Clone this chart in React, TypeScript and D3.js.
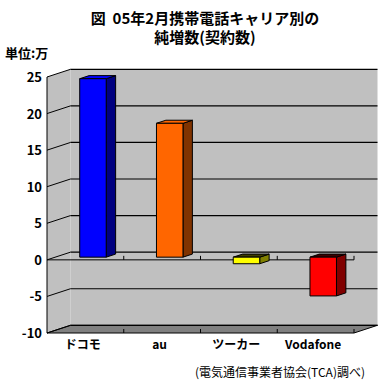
import React from "react";
import * as d3 from "d3";

const categories = ["ドコモ", "au", "ツーカー", "Vodafone"];
const values = [24.4, 18.3, -0.9, -5.3];
const frontColors = ["#0000FF", "#FF6600", "#FFFF00", "#FF0000"];
const sideColors = ["#000080", "#803300", "#808000", "#800000"];
const yTicks = [25, 20, 15, 10, 5, 0, -5, -10];
const titleLines = ["図  05年2月携帯電話キャリア別の", "純増数(契約数)"];
const unitLabel = "単位:万";
const sourceLabel = "(電気通信事業者協会(TCA)調べ)";

export default function App() {
  const W = 385, H = 392;
  const y = d3.scaleLinear().domain([-10, 25]).range([333, 77]);
  const x = d3.scaleBand<string>().domain(categories).range([47, 354]);
  const DX = 23.5, DY = -7.7;
  const bw = 26.5;
  const fF = 0.35, fB = 0.75;
  const dxF = DX * fF, dyF = DY * fF, dxB = DX * fB, dyB = DY * fB;
  const font = "'Noto Sans CJK JP', sans-serif";
  const pts = (arr: number[][]) => arr.map((p) => p.join(",")).join(" ");
  const x0 = 47, x1 = 354;
  const yMin = y(-10), yMax = y(25);

  return (
    <svg width={W} height={H} style={{ position: "absolute", left: 0, top: 0 }}>
      <rect width={W} height={H} fill="#fff" />
      {titleLines.map((t, i) => (
        <text key={i} x={205} y={24 + i * 19} textAnchor="middle" fontFamily={font} fontWeight="bold" fontSize={15} style={{ whiteSpace: "pre" }}>
          {t}
        </text>
      ))}
      <text x={5} y={58} fontFamily={font} fontWeight="bold" fontSize={13}>{unitLabel}</text>
      {/* left wall */}
      <polygon points={pts([[x0, yMax], [x0 + DX, yMax + DY], [x0 + DX, yMin + DY], [x0, yMin]])} fill="#C0C0C0" />
      {/* back wall */}
      <rect x={x0 + DX} y={yMax + DY} width={x1 - x0} height={yMin - yMax} fill="#C0C0C0" />
      {/* floor */}
      <polygon points={pts([[x0, yMin], [x1, yMin], [x1 + DX, yMin + DY], [x0 + DX, yMin + DY]])} fill="#808080" stroke="#000" strokeWidth={1} />
      {/* gridlines */}
      {yTicks.map((t) => (
        <g key={t}>
          <line x1={x0} y1={y(t)} x2={x0 + DX} y2={y(t) + DY} stroke="#000" />
          <line x1={x0 + DX} y1={y(t) + DY} x2={x1 + DX} y2={y(t) + DY} stroke="#000" strokeWidth={1.2} />
          <text x={42} y={y(t) + 5} textAnchor="end" fontFamily={font} fontWeight="bold" fontSize={13}>{t}</text>
        </g>
      ))}
      {/* value axis */}
      <line x1={x0} y1={yMax} x2={x0} y2={yMin} stroke="#000" />
      {/* floor ticks */}
      {categories.map((c) => (
        <line key={c} x1={(x(c) as number) + x.bandwidth()} y1={yMin - 4} x2={(x(c) as number) + x.bandwidth()} y2={yMin} stroke="#000" />
      ))}
      {/* zero line */}
      <line x1={x0} y1={y(0)} x2={x1} y2={y(0)} stroke="#000" />
      {categories.map((c) => (
        <line key={c} x1={(x(c) as number) + x.bandwidth()} y1={y(0) - 4} x2={(x(c) as number) + x.bandwidth()} y2={y(0)} stroke="#000" />
      ))}
      {/* bars */}
      {categories.map((c, i) => {
        const v = values[i];
        const yt = y(Math.max(v, 0));
        const yb = y(Math.min(v, 0));
        const fx = (x(c) as number) + 24.5 + dxF;
        const bx = fx + (dxB - dxF);
        const topColor = v >= 0 ? frontColors[i] : (d3.color(sideColors[i]) as any).darker(2).toString();
        return (
          <g key={c} stroke="#000" strokeWidth={1} strokeLinejoin="round">
            <polygon points={pts([[fx + bw, yt + dyF], [bx + bw, yt + dyB], [bx + bw, yb + dyB], [fx + bw, yb + dyF]])} fill={sideColors[i]} />
            <polygon points={pts([[fx, yt + dyF], [bx, yt + dyB], [bx + bw, yt + dyB], [fx + bw, yt + dyF]])} fill={topColor} />
            <rect x={fx} y={yt + dyF} width={bw} height={yb - yt} fill={frontColors[i]} />
          </g>
        );
      })}
      {/* category labels */}
      {categories.map((c) => (
        <text key={c} x={(x(c) as number) + x.bandwidth() / 2 - 2.5} y={349} textAnchor="middle" fontFamily={font} fontWeight="bold" fontSize={12}>
          {c}
        </text>
      ))}
      <text x={365} y={377} textAnchor="end" fontFamily={font} fontSize={12}>{sourceLabel}</text>
    </svg>
  );
}
